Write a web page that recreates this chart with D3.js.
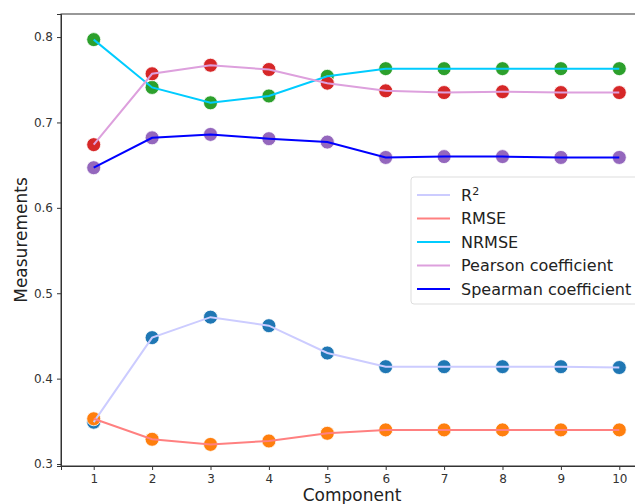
<!DOCTYPE html>
<html lang="en">
<head>
<meta charset="utf-8"/>
<style>
  body { margin: 0; background: #fff; }
  * { font-family: "DejaVu Sans", sans-serif; }
  .tick text { font-size: 12px; fill: #333; }
  .tick line { stroke: #333; }
  .domain { stroke: #333; }
</style>
</head>
<body>
<svg id="chart" width="635" height="504"></svg>
<script src="https://d3js.org/d3.v7.min.js"></script>
<script>
// data
let components = [1, 2, 3, 4, 5, 6, 7, 8, 9, 10]
let r2 = [0.349, 0.448, 0.472, 0.462, 0.430, 0.414, 0.414, 0.414, 0.414, 0.413]
let rmse = [0.353, 0.329, 0.323, 0.327, 0.336, 0.340, 0.340, 0.340, 0.340, 0.340]
let nrmse = [0.797, 0.741, 0.723, 0.731, 0.754, 0.763, 0.763, 0.763, 0.763, 0.763]
let pearson = [0.674, 0.757, 0.767, 0.762, 0.746, 0.737, 0.735, 0.736, 0.735, 0.735]
let spearman = [0.647, 0.682, 0.686, 0.681, 0.677, 0.659, 0.660, 0.660, 0.659, 0.659]
let yTicks = [0.3, 0.4, 0.5, 0.6, 0.7, 0.8]
let seriesNames = ["R2", "RMSE", "NRMSE", "Pearson coefficient", "Spearman coefficient"]

let series = [
  {name: seriesNames[0], values: r2, line: "#ccccff", dot: "#1f77b4"},
  {name: seriesNames[1], values: rmse, line: "#ff8080", dot: "#ff7f0e"},
  {name: seriesNames[2], values: nrmse, line: "#00ccff", dot: "#2ca02c"},
  {name: seriesNames[3], values: pearson, line: "#dda0dd", dot: "#d62728"},
  {name: seriesNames[4], values: spearman, line: "#0000ff", dot: "#9467bd"}
]

let svg = d3.select("#chart")
let pLeft = 61, pTop = 14, pRight = 652, pBottom = 466

let x = d3.scaleLinear().domain([0.44, 10.56]).range([pLeft, pRight])
let y = d3.scaleLinear().domain([0.2977, 0.827]).range([pBottom, pTop])

// frame
svg.append("rect")
  .attr("x", pLeft).attr("y", pTop)
  .attr("width", pRight - pLeft).attr("height", pBottom - pTop)
  .attr("fill", "none").attr("stroke", "#333").attr("stroke-width", 1)

svg.append("g")
  .attr("transform", "translate(0," + pBottom + ")")
  .call(d3.axisBottom(x).tickValues(components).tickFormat(d3.format("d")).tickSize(4).tickPadding(4))

svg.append("g")
  .attr("transform", "translate(" + pLeft + ",0)")
  .call(d3.axisLeft(y).tickValues(yTicks).tickFormat(d3.format(".1f")).tickSize(4).tickPadding(4))

// dots first, lines on top
series.forEach(s => {
  svg.append("g").selectAll("circle")
    .data(s.values)
    .enter()
    .append("circle")
    .attr("cx", (d, i) => x(components[i]))
    .attr("cy", d => y(d))
    .attr("r", 7)
    .attr("fill", s.dot)
    .attr("stroke", "#fff")
    .attr("stroke-width", 0.8)
})

let line = d3.line()
  .x((d, i) => x(components[i]))
  .y(d => y(d))

series.forEach(s => {
  svg.append("path")
    .datum(s.values)
    .attr("d", line)
    .attr("fill", "none")
    .attr("stroke", s.line)
    .attr("stroke-width", 2)
})

// axis labels
svg.append("text")
  .attr("x", 352).attr("y", 501)
  .attr("text-anchor", "middle")
  .style("font-size", "17px").style("fill", "#222")
  .text("Component")

svg.append("text")
  .attr("transform", "translate(27," + ((pTop + pBottom) / 2) + ") rotate(-90)")
  .attr("text-anchor", "middle")
  .style("font-size", "17px").style("fill", "#222")
  .text("Measurements")

// legend
let lg = svg.append("g").attr("transform", "translate(411,177)")
lg.append("rect")
  .attr("width", 230).attr("height", 127).attr("rx", 3)
  .attr("fill", "#fff").attr("fill-opacity", 0.85)
  .attr("stroke", "#ddd")

series.forEach((s, i) => {
  let row = lg.append("g").attr("transform", "translate(0," + (18 + i * 23.5) + ")")
  row.append("line")
    .attr("x1", 6).attr("x2", 39)
    .attr("stroke", s.line).attr("stroke-width", 2)
  let t = row.append("text")
    .attr("x", 50).attr("y", 5.5)
    .style("font-size", "16px").style("fill", "#222")
  if (i === 0) {
    t.text("R")
    t.append("tspan").attr("dy", -6).style("font-size", "11px").text("2")
  } else {
    t.text(s.name)
  }
})
</script>
</body>
</html>
